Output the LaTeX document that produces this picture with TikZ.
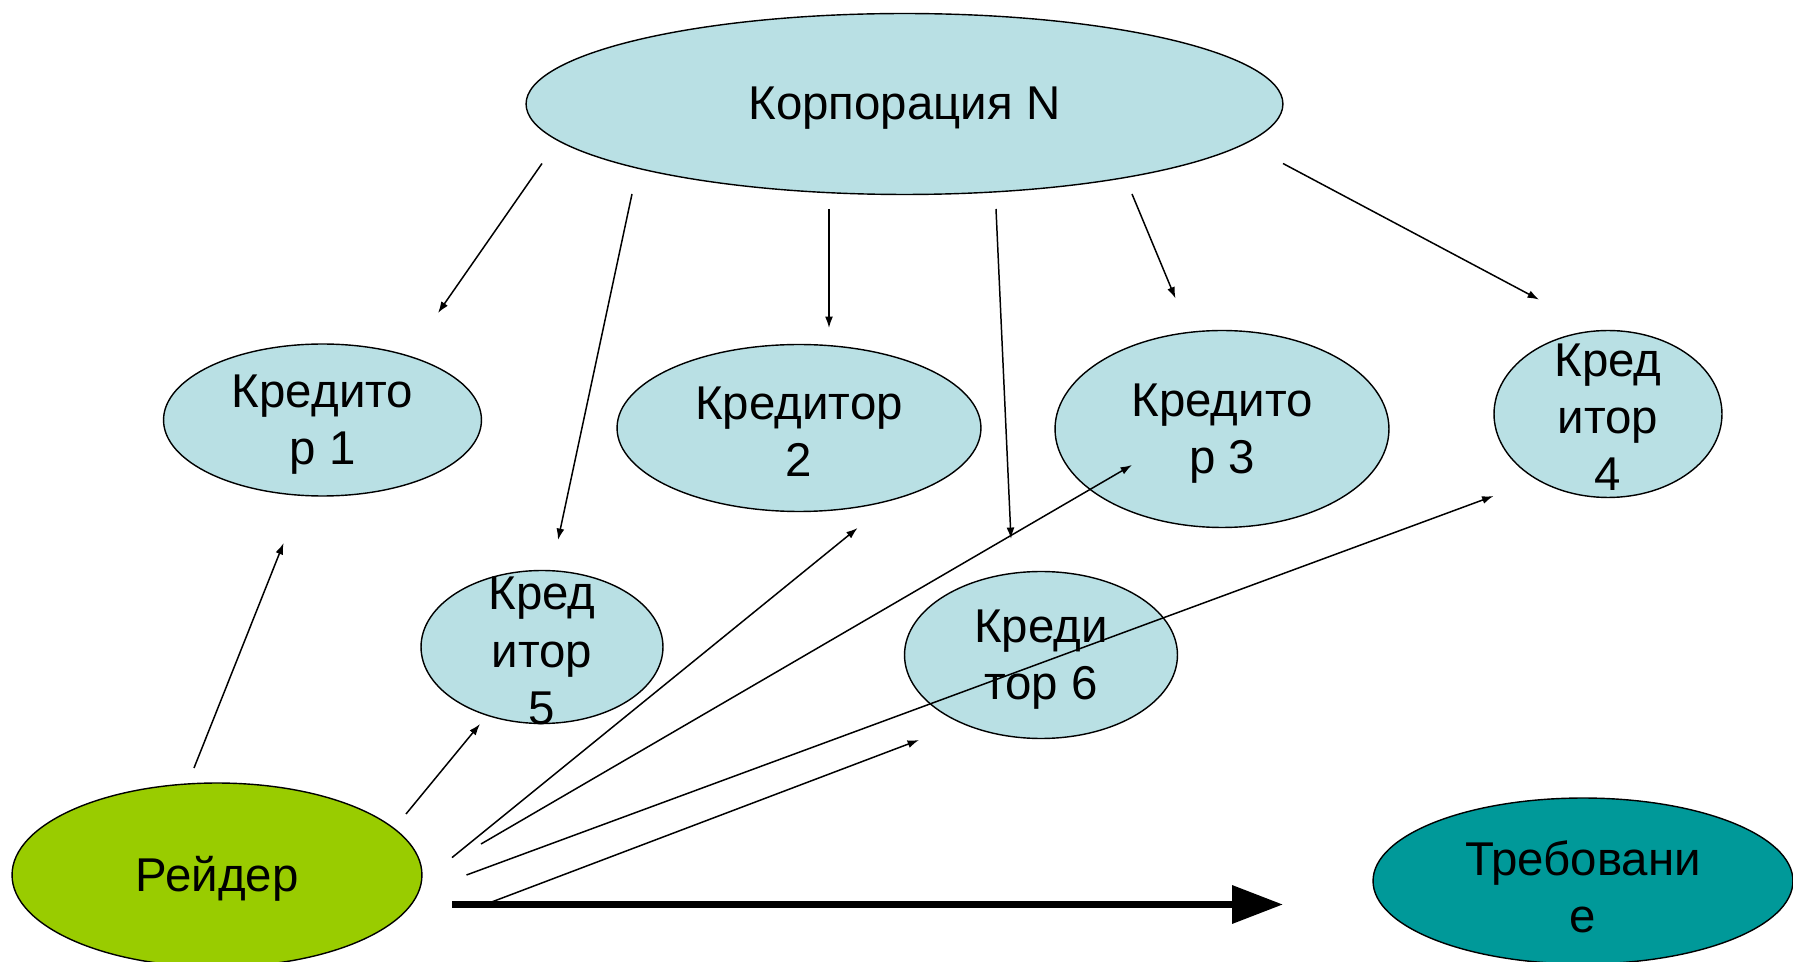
\documentclass[tikz,border=0pt]{standalone}
\usepackage{fontspec}
\setmainfont{Liberation Sans}
\usetikzlibrary{shapes.geometric,arrows.meta}
\definecolor{lblue}{RGB}{185,224,228}
\definecolor{rgreen}{RGB}{153,204,0}
\definecolor{rteal}{RGB}{0,153,153}
\begin{document}
\begin{tikzpicture}[x=0.02cm,y=-0.02cm,
  ell/.style={ellipse,draw=black,line width=0.8pt,inner sep=0pt,fill=lblue},
  txt/.style={align=center,font=\fontsize{27}{32.5}\selectfont,inner sep=0pt},
  conn/.style={line width=0.85pt,-{Latex[length=6.5pt,width=4.5pt]}},
  big/.style={line width=4pt,-{Triangle[length=29pt,width=21pt]}}]
\useasboundingbox (0,0) rectangle (1793,962);
% nodes
\node[ell,minimum width=15.14cm,minimum height=3.62cm] (korp) at (904.5,104) {};
\node[txt] (korpt) at (904.5,108.5) {Корпорация N};
\node[ell,minimum width=6.36cm,minimum height=3.04cm] (k1) at (322.5,420) {};
\node[txt] (k1t) at (322.5,425) {Кредито\\р 1};
\node[ell,minimum width=7.28cm,minimum height=3.34cm] (k2) at (799,428) {};
\node[txt] (k2t) at (799,432) {Кредитор\\2};
\node[ell,minimum width=6.68cm,minimum height=3.94cm] (k3) at (1222,429) {};
\node[txt] (k3t) at (1222,434) {Кредито\\р 3};
\node[ell,minimum width=4.56cm,minimum height=3.34cm] (k4) at (1608,414) {};
\node[txt] (k4t) at (1608,417) {Кред\\итор\\4};
\node[ell,minimum width=4.84cm,minimum height=3.06cm] (k5) at (542,647) {};
\node[txt] (k5t) at (542,651) {Кред\\итор\\5};
\node[ell,minimum width=5.46cm,minimum height=3.34cm] (k6) at (1041,655) {};
\node[txt] (k6t) at (1041,660) {Креди\\тор 6};
\node[ell,fill=rgreen,minimum width=8.2cm,minimum height=3.68cm] (r) at (217,875) {};
\node[txt] (rt) at (217,879) {Рейдер};
\node[ell,fill=rteal,minimum width=8.4cm,minimum height=3.32cm] (t) at (1583,881) {};
\node[txt] (tt) at (1583,887) {Требовани\\е};
% connector end points
\coordinate (a1s) at (542,163.5); \coordinate (a1e) at (438,313);
\coordinate (a2s) at (632,194);   \coordinate (a2e) at (558,540);
\coordinate (a3s) at (829,209);   \coordinate (a3e) at (829,328);
\coordinate (a4s) at (996,209);   \coordinate (a4e) at (1011,539);
\coordinate (a5s) at (1132,194);  \coordinate (a5e) at (1175.5,298.5);
\coordinate (a6s) at (1283,163.5); \coordinate (a6e) at (1539,299.6);
\coordinate (b1s) at (194,768);   \coordinate (b1e) at (283.6,543);
\coordinate (b2s) at (406,814);   \coordinate (b2e) at (480,724);
\coordinate (b3s) at (452,857.6); \coordinate (b3e) at (857.6,528);
\coordinate (b4s) at (481,844);   \coordinate (b4e) at (1132,465);
\coordinate (b5s) at (466.5,875); \coordinate (b5e) at (1493.5,496);
\coordinate (b6s) at (489,903);   \coordinate (b6e) at (919,740);
\coordinate (cs) at (452,904.5);  \coordinate (ce) at (1283,904.5);
% connectors
\draw[conn] (a1s) -- (a1e);
\draw[conn] (a2s) -- (a2e);
\draw[conn] (a3s) -- (a3e);
\draw[conn] (a4s) -- (a4e);
\draw[conn] (a5s) -- (a5e);
\draw[conn] (a6s) -- (a6e);
\draw[conn] (b1s) -- (b1e);
\draw[conn] (b2s) -- (b2e);
\draw[conn] (b3s) -- (b3e);
\draw[conn] (b4s) -- (b4e);
\draw[conn] (b5s) -- (b5e);
\draw[conn] (b6s) -- (b6e);
\draw[big] (cs) -- (ce);
\end{tikzpicture}
\end{document}
